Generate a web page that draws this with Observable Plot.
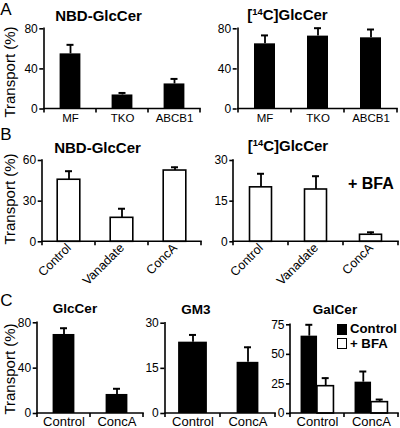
<!DOCTYPE html>
<html>
<head>
<meta charset="utf-8">
<script src="https://cdn.jsdelivr.net/npm/d3@7"></script>
<script src="https://cdn.jsdelivr.net/npm/@observablehq/plot@0.6"></script>
<style>
html,body{margin:0;padding:0;background:#fff;}
#fig{position:relative;width:400px;height:428px;overflow:hidden;background:#fff;font-family:"Liberation Sans",Arial,Helvetica,sans-serif;color:#000;}
#fig svg{position:absolute;}
.t{position:absolute;white-space:nowrap;line-height:1;transform:translate(-50%,-50%);}
.t sup{font-size:0.62em;vertical-align:0;position:relative;top:-0.55em;}
.sw{position:absolute;box-sizing:border-box;border:1.6px solid #000;}
</style>
</head>
<body>
<div id="fig"></div>
<script>
// ---------- data ----------
const aCats = ["MF", "TKO", "ABCB1"];
const aTicks = [0, 40, 80];
const aNbdMean = [55, 14, 25];
const aNbdErr = [9, 2, 5];
const aC14Mean = [65, 72.7, 71];
const aC14Err = [8.4, 7.9, 8.3];

const bCats = ["Control", "Vanadate", "ConcA"];
const bNbdTicks = [0, 30, 60];
const bNbdMean = [45.8, 17.7, 52.6];
const bNbdErr = [6.3, 6.7, 2.4];
const bC14Ticks = [0, 15, 30];
const bC14Mean = [20.1, 19.3, 2.6];
const bC14Err = [5, 4.9, 0.9];

const cCats = ["Control", "ConcA"];
const cGlcTicks = [0, 40, 80];
const cGlcMean = [69.7, 16.8];
const cGlcErr = [5.5, 5];
const cGm3Ticks = [0, 15, 30];
const cGm3Mean = [23.7, 17];
const cGm3Err = [2.4, 5];
const cGalTicks = [0, 25, 50, 75];
const galSeries = ["Control", "+ BFA"];
const galControlMean = [65.4, 26.5];
const galControlErr = [9.6, 9];
const galBfaMean = [23.1, 9.6];
const galBfaErr = [6.8, 2.2];

const panelLetters = ["A", "B", "C"];
const panelTitles = ["NBD-GlcCer", "[14C]GlcCer", "NBD-GlcCer", "[14C]GlcCer", "GlcCer", "GM3", "GalCer"];
const yTitle = "Transport (%)";
const bfaNote = "+ BFA";

// ---------- helpers ----------
const fig = document.getElementById("fig");
const FONT = "Liberation Sans, Arial, Helvetica, sans-serif";

function addText(html, cx, cy, size, bold, rot) {
  const d = document.createElement("div");
  d.className = "t";
  d.innerHTML = html;
  d.style.left = cx + "px";
  d.style.top = cy + "px";
  d.style.fontSize = size + "px";
  d.style.fontWeight = bold ? "bold" : "normal";
  if (rot) d.style.transform = `translate(-50%,-50%) rotate(${rot}deg)`;
  fig.appendChild(d);
  return d;
}
function titleHtml(t) { return t.replace(/\[(\d+)C\]/, "[<sup>$1</sup>C]"); }

function axesMark(cats, yMax) {
  return (index, scales) => {
    const x = scales.x, y = scales.y;
    const bw = x.bandwidth();
    const x0 = x(cats[0]), x1 = x(cats[cats.length - 1]) + bw;
    const yb = y(0), yt = y(yMax);
    const g = d3.create("svg:g").attr("stroke", "black").attr("stroke-width", 1.6).attr("stroke-linecap", "square").attr("fill", "none");
    g.append("line").attr("x1", x0).attr("x2", x0).attr("y1", yb).attr("y2", yt);
    g.append("line").attr("x1", x0).attr("x2", x1).attr("y1", yb).attr("y2", yb);
    const bounds = cats.map(c => x(c)).concat([x1]);
    for (const b of bounds) g.append("line").attr("x1", b).attr("x2", b).attr("y1", yb).attr("y2", yb + 4).attr("stroke-linecap", "butt");
    return g.node();
  };
}

function panel(cfg) {
  const [left, top, width, height] = cfg.box;
  const [mT, mR, mB, mL] = cfg.m;
  const marks = [
    Plot.axisY({ticks: cfg.yTicks, tickSize: 4, tickPadding: 2, fontSize: 12, label: null, strokeWidth: 1.6}),
    Plot.axisX({tickSize: 0, tickPadding: cfg.labelPad, fontSize: cfg.labelSize, label: null, tickRotate: cfg.rotate || 0})
  ];
  for (const g of cfg.groups) {
    const rows = cfg.cats.map((c, i) => ({cat: c, v: g.mean[i], e: g.err[i], i}));
    const insets = Array.isArray(g.inset) ? g.inset : cfg.cats.map(() => g.inset);
    cfg.cats.forEach((c, i) => {
      marks.push(Plot.barY(rows.filter(r => r.i === i), {
        x: "cat", y: "v", fill: g.fill, stroke: "black", strokeWidth: g.fill === "white" ? 1.6 : 0,
        insetLeft: insets[i], insetRight: insets[i], dx: g.dx || 0
      }));
    });
    marks.push(Plot.ruleX(rows, {x: "cat", y1: "v", y2: d => d.v + d.e, stroke: "black", strokeWidth: 1.8, dx: g.dx || 0}));
    marks.push(Plot.tickY(rows, {x: "cat", y: d => d.v + d.e, stroke: "black", strokeWidth: 2, insetLeft: cfg.cap, insetRight: cfg.cap, dx: g.dx || 0}));
  }
  marks.push(axesMark(cfg.cats, cfg.yMax));
  const svg = Plot.plot({
    width, height, marginTop: mT, marginRight: mR, marginBottom: mB, marginLeft: mL,
    x: {domain: cfg.cats, padding: 0},
    y: {domain: [0, cfg.yMax]},
    style: {background: "transparent", overflow: "visible", fontFamily: FONT, color: "black"},
    marks
  });
  svg.style.left = left + "px";
  svg.style.top = top + "px";
  fig.appendChild(svg);
}

// ---------- panels ----------
panel({box: [0, 0, 205, 130], m: [28.3, 4, 21.5, 43.3], cats: aCats, yMax: 80, yTicks: aTicks,
  groups: [{mean: aNbdMean, err: aNbdErr, fill: "black", inset: 15.6}], labelSize: 11.5, labelPad: 5, cap: 22.5});
panel({box: [205, 0, 195, 130], m: [28.3, 2.3, 21.5, 31.7], cats: aCats, yMax: 80, yTicks: aTicks,
  groups: [{mean: aC14Mean, err: aC14Err, fill: "black", inset: 16}], labelSize: 11.5, labelPad: 5, cap: 23});
panel({box: [0, 130, 205, 160], m: [30, 4.3, 48.7, 41.7], cats: bCats, yMax: 60, yTicks: bNbdTicks,
  groups: [{mean: bNbdMean, err: bNbdErr, fill: "white", inset: 15.2}], labelSize: 12.5, labelPad: 4, rotate: -45, cap: 23});
panel({box: [205, 130, 195, 160], m: [30, 1.7, 48.7, 28.3], cats: bCats, yMax: 30, yTicks: bC14Ticks,
  groups: [{mean: bC14Mean, err: bC14Err, fill: "white", inset: 16.5}], labelSize: 12.5, labelPad: 4, rotate: -45, cap: 24});
panel({box: [0, 290, 150, 138], m: [32.3, 6.7, 15, 36.7], cats: cCats, yMax: 80, yTicks: cGlcTicks,
  groups: [{mean: cGlcMean, err: cGlcErr, fill: "black", inset: 15.6}], labelSize: 13, labelPad: 3, cap: 23});
panel({box: [140, 290, 140, 138], m: [32.7, 5, 15, 24.3], cats: cCats, yMax: 30, yTicks: cGm3Ticks,
  groups: [{mean: cGm3Mean, err: cGm3Err, fill: "black", inset: [13.1, 16.6]}], labelSize: 13, labelPad: 3, cap: 24});
panel({box: [270, 290, 130, 138], m: [34.3, 2, 15, 20], cats: cCats, yMax: 75, yTicks: cGalTicks,
  groups: [
    {mean: galControlMean, err: galControlErr, fill: "black", inset: 18.75, dx: -8.2},
    {mean: galBfaMean, err: galBfaErr, fill: "white", inset: 18.75, dx: 8.2}
  ], labelSize: 13, labelPad: 3, cap: 23.5});

// ---------- text ----------
addText(panelLetters[0], 6, 8.5, 17);
addText(panelLetters[1], 6, 134, 17);
addText(panelLetters[2], 6.5, 300, 17);

addText(titleHtml(panelTitles[0]), 98.5, 14.5, 15, true);
addText(titleHtml(panelTitles[1]), 287.5, 15, 15, true);
addText(titleHtml(panelTitles[2]), 97.5, 146.7, 15, true);
addText(titleHtml(panelTitles[3]), 288, 146, 15, true);
addText(titleHtml(panelTitles[4]), 75, 308.5, 13.5, true);
addText(titleHtml(panelTitles[5]), 195.8, 309.5, 13.5, true);
addText(titleHtml(panelTitles[6]), 335, 309.5, 13.5, true);

const bfa = addText(bfaNote, 0, 184, 16, true);
bfa.style.transform = "translate(0,-50%)";
bfa.style.left = "348px";

addText(yTitle, 8.5, 72, 15, false, -90);
addText(yTitle, 8.5, 199, 15, false, -90);
addText(yTitle, 8.5, 369, 15, false, -90);

// legend (GalCer)
const swFill = ["#000", "#fff"];
galSeries.forEach((s, i) => {
  const sq = document.createElement("div");
  sq.className = "sw";
  sq.style.left = "336.7px";
  sq.style.top = (324 + i * 14.3) + "px";
  sq.style.width = "10.5px";
  sq.style.height = "10.5px";
  sq.style.background = swFill[i];
  fig.appendChild(sq);
  const t = addText(s, 0, 329.3 + i * 14.3, 13.2, true);
  t.style.transform = "translate(0,-50%)";
  t.style.left = "350px";
});
</script>
</body>
</html>
